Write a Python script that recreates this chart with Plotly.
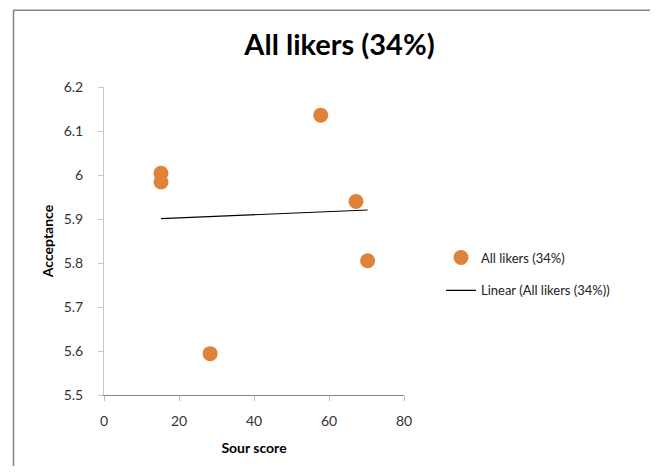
import numpy as np
import plotly.graph_objects as go

# Data
sour_score = [15.2, 15.2, 28.3, 57.8, 67.2, 70.3]
acceptance = [6.004, 5.984, 5.594, 6.136, 5.940, 5.805]

series_name = "All likers (34%)"
trend_name = "Linear (All likers (34%))"

y_tickvals = [5.5, 5.6, 5.7, 5.8, 5.9, 6.0, 6.1, 6.2]
y_ticktext = ["5.5", "5.6", "5.7", "5.8", "5.9", "6", "6.1", "6.2"]
x_tickvals = [0, 20, 40, 60, 80]

# Linear trendline (least squares), spanning the data x-range
slope, intercept = np.polyfit(sour_score, acceptance, 1)
trend_x = [min(sour_score), max(sour_score)]
trend_y = [slope * v + intercept for v in trend_x]

FONT = "Lato, 'Open Sans', sans-serif"

fig = go.Figure()
fig.add_trace(go.Scatter(
    x=sour_score, y=acceptance, mode="markers", name=series_name,
    marker=dict(color="#DF823A", size=15, line=dict(width=0)),
    legendgroup="a",
))
fig.add_trace(go.Scatter(
    x=trend_x, y=trend_y, mode="lines", name=trend_name,
    line=dict(color="black", width=1.2),
    legendgroup="b",
))

# page has an 8px body margin; figure coordinates = page coordinates - 8
W, H = 642, 458
L, T = 96, 79
pw, ph = 300, 311
R, B = W - L - pw, H - T - ph

fig.update_layout(
    width=W, height=H,
    margin=dict(l=L, r=R, t=T, b=B, pad=0),
    paper_bgcolor="white", plot_bgcolor="white",
    font=dict(family=FONT, size=14, color="#222222"),
    title=dict(text="<b>All likers (34%)</b>", x=331.5 / W, xanchor="center",
               y=1 - 37 / H, yanchor="middle",
               font=dict(family=FONT, size=29, color="black")),
    showlegend=True,
    legend=dict(x=(433 - L) / pw, xanchor="left", y=1 - (250 - T) / ph + 14 / ph,
                yanchor="top", font=dict(family=FONT, size=13, color="#222222"),
                tracegroupgap=13, bgcolor="rgba(0,0,0,0)", borderwidth=0),
    xaxis=dict(range=[0, 80], tickvals=x_tickvals, showgrid=False, zeroline=False,
               showline=True, linecolor="#868686", linewidth=1,
               ticks="outside", ticklen=5, tickcolor="#BFBFBF",
               ticklabelstandoff=8,
               tickfont=dict(family=FONT, size=14, color="#333333"),
               title=dict(text="<b>Sour score</b>", standoff=15,
                          font=dict(family=FONT, size=14, color="black"))),
    yaxis=dict(range=[5.5, 6.2], tickvals=y_tickvals, ticktext=y_ticktext,
               showgrid=False, zeroline=False,
               showline=True, linecolor="#C8C8C8", linewidth=1,
               ticks="outside", ticklen=5, tickcolor="#C8C8C8",
               ticklabelstandoff=12,
               tickfont=dict(family=FONT, size=14, color="#333333"),
               title=dict(text="<b>Acceptance</b>", standoff=6,
                          font=dict(family=FONT, size=14, color="black"))),
)

# Chart border (only left and top visible in the crop)
bx = (5.5 - L) / pw
by = 1 + (T - 1.5) / ph
fig.add_shape(type="line", xref="paper", yref="paper", x0=bx, x1=bx,
              y0=by, y1=-(B + 5) / ph,
              line=dict(color="#808080", width=1.5))
fig.add_shape(type="line", xref="paper", yref="paper", x0=bx, x1=(W - L + 5) / pw,
              y0=by, y1=by, line=dict(color="#808080", width=1.5))

fig.write_html("out.html")
